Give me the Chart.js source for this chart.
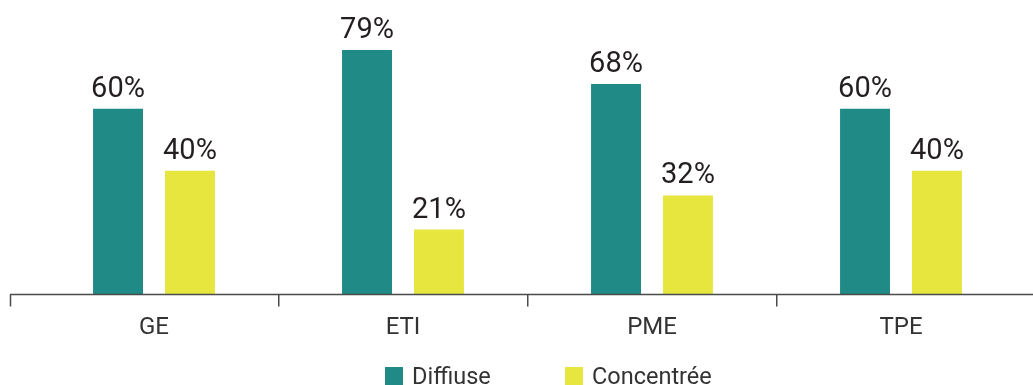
<!DOCTYPE html>
<html lang="fr">
<head>
<meta charset="utf-8">
<title>Diffuse / Concentrée</title>
<script src="https://cdn.jsdelivr.net/npm/chart.js@4/dist/chart.umd.min.js"></script>
<style>
  html, body { margin: 0; padding: 0; background: #fff; }
  #wrap { position: relative; width: 1033px; height: 385px; }
  #legend {
    position: absolute; left: 385px; top: 362px;
    display: flex; font-family: Roboto, sans-serif; font-size: 23.5px; color: #333;
  }
  .item { display: flex; align-items: center; width: 180px; }
  .swatch { width: 18px; height: 18px; margin-right: 9px; }
</style>
</head>
<body>
<div id="wrap">
  <canvas id="chart" width="1033" height="385"></canvas>
  <div id="legend"></div>
</div>
<script>
const categories = ['GE', 'ETI', 'PME', 'TPE'];
const diffuse = [60, 79, 68, 60];
const concentree = [40, 21, 32, 40];
const seriesNames = ['Diffiuse', 'Concentrée'];
const seriesColors = ['#1f8a86', '#e6e63f'];

const AXIS = '#4a4a4a';

// value labels above each bar
const valueLabels = {
  id: 'valueLabels',
  afterDatasetsDraw(chart) {
    const ctx = chart.ctx;
    ctx.save();
    ctx.font = '400 29px Roboto, sans-serif';
    ctx.fillStyle = '#231f20';
    ctx.textAlign = 'center';
    ctx.textBaseline = 'alphabetic';
    chart.data.datasets.forEach((ds, i) => {
      chart.getDatasetMeta(i).data.forEach((bar, j) => {
        ctx.fillText(ds.data[j] + '%', bar.x, bar.y - 12);
      });
    });
    ctx.restore();
  }
};

// baseline runs the full width, with an extra tick at the far left
const axisLine = {
  id: 'axisLine',
  afterDraw(chart) {
    const { ctx, chartArea, width } = chart;
    const y = chartArea.bottom;
    ctx.save();
    ctx.strokeStyle = AXIS;
    ctx.lineWidth = 1.5;
    ctx.beginPath();
    ctx.moveTo(10, y);
    ctx.lineTo(width, y);
    ctx.moveTo(10.5, y);
    ctx.lineTo(10.5, y + 12);
    ctx.stroke();
    ctx.restore();
  }
};

const chart = new Chart(document.getElementById('chart'), {
  type: 'bar',
  data: {
    labels: categories,
    datasets: [
      { label: seriesNames[0], data: diffuse, backgroundColor: seriesColors[0] },
      { label: seriesNames[1], data: concentree, backgroundColor: seriesColors[1] },
    ],
  },
  options: {
    responsive: false,
    animation: false,
    categoryPercentage: 0.578,
    barPercentage: 0.694,
    layout: { padding: { top: 0.5, left: 29.5, right: 7.5, bottom: 0 } },
    plugins: {
      legend: { display: false },
      tooltip: { enabled: false },
    },
    scales: {
      y: { display: false, min: 0, max: 95 },
      x: {
        afterFit: scale => { scale.height = 90.5; },
        border: { display: false },
        grid: {
          drawOnChartArea: false,
          drawTicks: true,
          tickLength: 12,
          lineWidth: 1.5,
          color: ctx => (ctx.index > 0 && ctx.index < categories.length) ? AXIS : 'rgba(0,0,0,0)',
        },
        ticks: {
          color: '#333',
          padding: 7,
          font: { family: 'Roboto, sans-serif', size: 24 },
        },
      },
    },
  },
  plugins: [valueLabels, axisLine],
});

document.getElementById('legend').innerHTML = chart.data.datasets.map(ds => `
  <div class="item"><span class="swatch" style="background:${ds.backgroundColor}"></span>${ds.label}</div>
`).join('');
</script>
</body>
</html>
